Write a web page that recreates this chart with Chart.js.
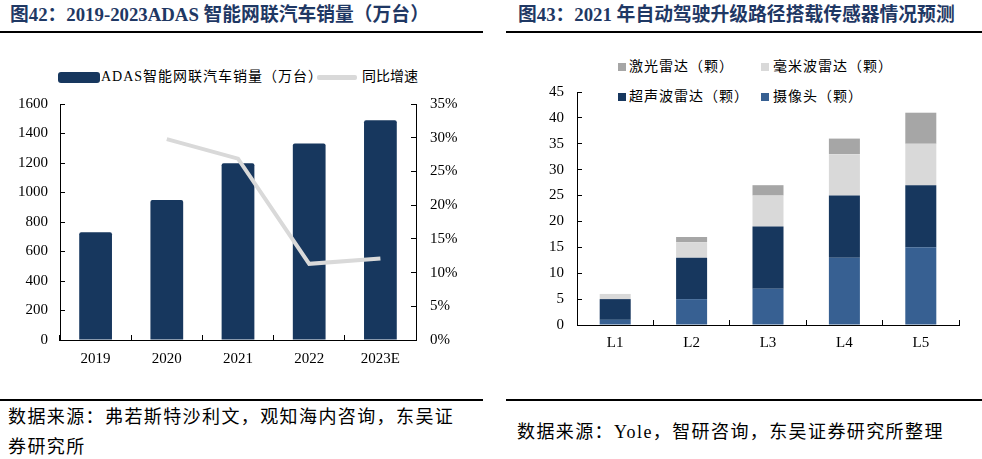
<!DOCTYPE html>
<html>
<head>
<meta charset="utf-8">
<script src="https://cdn.jsdelivr.net/npm/chart.js@4.4.1/dist/chart.umd.min.js"></script>
<style>
  body { margin: 0; background: #fff; width: 982px; height: 459px; position: relative; overflow: hidden;
         font-family: "Liberation Serif", "Noto Sans CJK SC", serif; }
  .abs { position: absolute; white-space: nowrap; }
  .title { font-size: 18.8px; font-weight: bold; color: #1f3864; line-height: 20px; }
  .rule { position: absolute; height: 2px; background: #000; }
  .leg { font-size: 14px; color: #000; line-height: 16px; letter-spacing: 1px; }
  .src { font-size: 18px; color: #000; letter-spacing: 1.4px; line-height: 30px; }
  canvas { position: absolute; }
</style>
</head>
<body>
<div class="abs title" style="left:10px; top:5px;">图42：2019-2023ADAS 智能网联汽车销量（万台）</div>
<div class="rule" style="left:0; top:31px; width:483px;"></div>
<div class="abs title" style="left:518px; top:5px;">图43：2021 年自动驾驶升级路径搭载传感器情况预测</div>
<div class="rule" style="left:506px; top:31px; width:476px;"></div>

<!-- legend, left chart -->
<div class="abs" style="left:58px; top:72px; width:42px; height:11px; background:#17375e; border-radius:3px;"></div>
<div class="abs leg" style="left:101px; top:69px;">ADAS智能网联汽车销量（万台）</div>
<div class="abs" style="left:317px; top:75px; width:40px; height:5px; background:#d9d9d9; border-radius:2px;"></div>
<div class="abs leg" style="left:362px; top:69px; letter-spacing:0;">同比增速</div>

<!-- legend, right chart -->
<div class="abs" style="left:618px; top:63px; width:8px; height:8px; background:#a6a6a6;"></div>
<div class="abs leg" style="left:629px; top:59px;">激光雷达（颗）</div>
<div class="abs" style="left:761px; top:63px; width:8px; height:8px; background:#d9d9d9;"></div>
<div class="abs leg" style="left:773px; top:59px;">毫米波雷达（颗）</div>
<div class="abs" style="left:618px; top:93px; width:8px; height:8px; background:#17375e;"></div>
<div class="abs leg" style="left:629px; top:89px;">超声波雷达（颗）</div>
<div class="abs" style="left:761px; top:93px; width:8px; height:8px; background:#376092;"></div>
<div class="abs leg" style="left:773px; top:89px;">摄像头（颗）</div>

<canvas id="salesChart" width="483" height="340" style="left:0; top:40px;"></canvas>
<canvas id="sensorChart" width="491" height="340" style="left:491px; top:40px;"></canvas>

<div class="rule" style="left:0; top:399px; width:483px;"></div>
<div class="abs src" style="left:8px; top:402px;">数据来源：弗若斯特沙利文，观知海内咨询，东吴证<br>券研究所</div>
<div class="rule" style="left:506px; top:399px; width:476px;"></div>
<div class="abs src" style="left:517px; top:417px;">数据来源：Yole，智研咨询，东吴证券研究所整理</div>

<script>
const years = ["2019", "2020", "2021", "2022", "2023E"];
const adasSales = [730, 949, 1198, 1333, 1489];
const yoyGrowth = [null, 29.8, 26.9, 11.3, 12.1];

const levels = ["L1", "L2", "L3", "L4", "L5"];
const cameras = [1, 5, 7, 13, 15];
const ultrasonic = [4, 8, 12, 12, 12];
const mmWave = [1, 3, 6, 8, 8];
const lidar = [0, 1, 2, 3, 6];

const fontFam = '"Liberation Serif", "Noto Sans CJK SC", serif';
Chart.defaults.font.family = fontFam;
Chart.defaults.color = "#000";

const tickFont = { family: fontFam, size: 15 };
const inwardGrid = { drawOnChartArea: false, color: "#000", tickLength: -5, lineWidth: 1 };
const axisBorder = { color: "#000", width: 1 };

new Chart(document.getElementById("salesChart"), {
  data: {
    labels: years,
    datasets: [
      {
        type: "line",
        label: "同比增速",
        data: yoyGrowth,
        yAxisID: "y1",
        borderColor: "#d9d9d9",
        borderWidth: 4,
        pointRadius: 0,
        tension: 0
      },
      {
        type: "bar",
        label: "ADAS智能网联汽车销量（万台）",
        data: adasSales,
        yAxisID: "y",
        backgroundColor: "#17375e",
        barPercentage: 0.46,
        categoryPercentage: 1,
        borderRadius: { topLeft: 2, topRight: 2 },
        borderSkipped: "bottom"
      }
    ]
  },
  options: {
    responsive: false,
    animation: false,
    layout: { padding: { top: 64, left: 0, right: 0, bottom: 0 } },
    plugins: { legend: { display: false }, tooltip: { enabled: false } },
    scales: {
      x: {
        grid: { ...inwardGrid, offset: true },
        border: axisBorder,
        ticks: { font: tickFont, padding: 15 },
        afterFit: s => { s.height = 40; }
      },
      y: {
        position: "left",
        min: 0, max: 1600,
        grid: inwardGrid,
        border: axisBorder,
        ticks: { font: tickFont, stepSize: 200, padding: 17, callback: v => String(v) },
        afterFit: s => { s.width = 60; }
      },
      y1: {
        position: "right",
        min: 0, max: 35,
        grid: inwardGrid,
        border: axisBorder,
        ticks: { font: tickFont, stepSize: 5, padding: 19, callback: v => v + "%" },
        afterFit: s => { s.width = 67; }
      }
    }
  }
});

new Chart(document.getElementById("sensorChart"), {
  type: "bar",
  data: {
    labels: levels,
    datasets: [
      { label: "摄像头（颗）", data: cameras, backgroundColor: "#376092" },
      { label: "超声波雷达（颗）", data: ultrasonic, backgroundColor: "#17375e" },
      { label: "毫米波雷达（颗）", data: mmWave, backgroundColor: "#d9d9d9" },
      { label: "激光雷达（颗）", data: lidar, backgroundColor: "#a6a6a6" }
    ]
  },
  options: {
    responsive: false,
    animation: false,
    datasets: { bar: { barPercentage: 0.406, categoryPercentage: 1 } },
    layout: { padding: { top: 52, left: 0, right: 23, bottom: 0 } },
    plugins: { legend: { display: false }, tooltip: { enabled: false } },
    scales: {
      x: {
        stacked: true,
        grid: { ...inwardGrid, offset: true },
        border: axisBorder,
        ticks: { font: tickFont, padding: 14 },
        afterFit: s => { s.height = 55; }
      },
      y: {
        stacked: true,
        min: 0, max: 45,
        grid: inwardGrid,
        border: axisBorder,
        ticks: { font: tickFont, stepSize: 5, padding: 18 },
        afterFit: s => { s.width = 86; }
      }
    }
  }
});
</script>
</body>
</html>
